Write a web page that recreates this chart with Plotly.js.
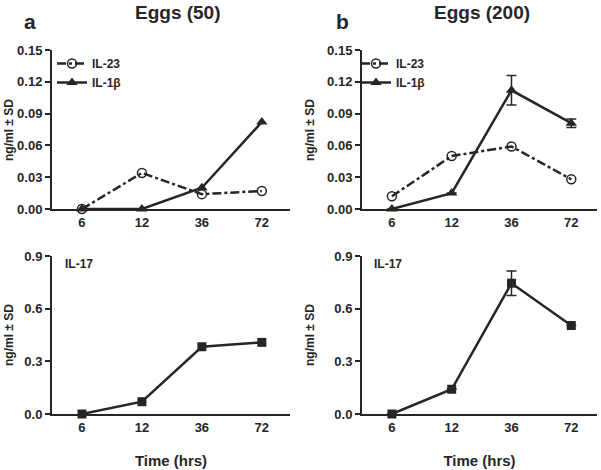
<!DOCTYPE html>
<html>
<head>
<meta charset="utf-8">
<script src="https://cdn.plot.ly/plotly-3.0.1.min.js"></script>
<style>
html,body{margin:0;padding:0;background:#fff;}
#chart{width:601px;height:470px;}
</style>
</head>
<body>
<div id="chart"></div>
<script>
// ---- data ----
const timeLabels = ["6", "12", "36", "72"];
const il23_50 = [0.000, 0.034, 0.014, 0.017];
const il1b_50 = [0.000, 0.000, 0.020, 0.082];
const il23_200 = [0.012, 0.050, 0.059, 0.028];
const il1b_200 = [0.000, 0.015, 0.112, 0.081];
const il1b_200_sd = [0, 0, 0.014, 0.004];
const il17_50 = [0.000, 0.070, 0.383, 0.408];
const il17_200 = [0.000, 0.141, 0.745, 0.504];
const il17_200_sd = [0, 0, 0.070, 0];

const W = 601, H = 470;
const ink = '#262626';
const FONT = 'Liberation Sans, Arial, Helvetica, sans-serif';
const px = v => v / W;
const py = v => (H - v) / H;

function circleTrace(y, xa, ya, lg, show) {
  return {x: timeLabels, y: y, xaxis: xa, yaxis: ya, name: 'IL-23', legend: lg, showlegend: show,
    mode: 'lines+markers', cliponaxis: false,
    line: {color: ink, width: 2.5, dash: 'dashdot'},
    marker: {symbol: 'circle-open', size: 9, color: ink, line: {width: 1.5, color: ink}}};
}
function triTrace(y, xa, ya, lg, sd) {
  const t = {x: timeLabels, y: y, xaxis: xa, yaxis: ya, name: 'IL-1β', legend: lg,
    mode: 'lines+markers', cliponaxis: false,
    line: {color: ink, width: 2.5},
    marker: {symbol: 'triangle-up', size: 10, color: ink}};
  if (sd) t.error_y = {type: 'data', array: sd, visible: true, color: ink, thickness: 1.5, width: 5};
  return t;
}
function sqTrace(y, xa, ya, sd) {
  const t = {x: timeLabels, y: y, xaxis: xa, yaxis: ya, name: 'IL-17', showlegend: false,
    mode: 'lines+markers', cliponaxis: false,
    line: {color: ink, width: 2.5},
    marker: {symbol: 'square', size: 9, color: ink}};
  if (sd) t.error_y = {type: 'data', array: sd, visible: true, color: ink, thickness: 1.5, width: 5};
  return t;
}

const data = [
  circleTrace(il23_50, 'x', 'y', 'legend', true),
  triTrace(il1b_50, 'x', 'y', 'legend', null),
  circleTrace(il23_200, 'x2', 'y2', 'legend2', true),
  triTrace(il1b_200, 'x2', 'y2', 'legend2', il1b_200_sd),
  sqTrace(il17_50, 'x3', 'y3', null),
  sqTrace(il17_200, 'x4', 'y4', il17_200_sd)
];

const tickF = {family: FONT, size: 13, color: ink, weight: 'bold'};
function xAxis(domain, anchor, xr, withTitle) {
  const a = {domain: domain, anchor: anchor, type: 'category', range: [-0.5, xr],
    showline: true, linewidth: 2, linecolor: ink, ticks: '', showgrid: false, zeroline: false,
    tickfont: tickF, fixedrange: true, automargin: false};
  if (withTitle) a.title = {text: 'Time (hrs)', font: {family: FONT, size: 15, color: ink, weight: 'bold'}, standoff: 22};
  return a;
}
function yAxis(domain, anchor, range, dtick, fmt) {
  return {domain: domain, anchor: anchor, range: range, dtick: dtick, tick0: 0, tickformat: fmt,
    showline: true, linewidth: 2, linecolor: ink, ticks: 'outside', ticklen: 5, tickwidth: 2, tickcolor: ink,
    showgrid: false, zeroline: false, tickfont: tickF, fixedrange: true, automargin: false};
}

const xL = [px(52), px(290)], xR = [px(362), px(597)];
const yT = [py(209), py(50)], yB = [py(414), py(256)];

const legendBase = {xanchor: 'left', yanchor: 'top', bgcolor: 'rgba(0,0,0,0)',
  font: {family: FONT, size: 12, color: ink, weight: 'bold'}, itemwidth: 30, tracegroupgap: 0};

function ann(text, x, y, size, extra) {
  return Object.assign({text: text, x: px(x), y: py(y), xref: 'paper', yref: 'paper', showarrow: false,
    xanchor: 'center', yanchor: 'middle',
    font: {family: FONT, size: size, color: ink, weight: 'bold'}}, extra || {});
}
const yTitle = 'ng/ml ± SD';

const layout = {
  width: W, height: H,
  margin: {l: 0, r: 0, t: 0, b: 0},
  paper_bgcolor: '#fff', plot_bgcolor: '#fff',
  showlegend: true,
  xaxis: xAxis(xL, 'y', 3.47, false),
  yaxis: yAxis(yT, 'x', [0, 0.15], 0.03, '.2f'),
  xaxis2: xAxis(xR, 'y2', 3.43, false),
  yaxis2: yAxis(yT, 'x2', [0, 0.15], 0.03, '.2f'),
  xaxis3: xAxis(xL, 'y3', 3.47, true),
  yaxis3: yAxis(yB, 'x3', [0, 0.9], 0.3, '.1f'),
  xaxis4: xAxis(xR, 'y4', 3.43, true),
  yaxis4: yAxis(yB, 'x4', [0, 0.9], 0.3, '.1f'),
  legend: Object.assign({x: px(52), y: py(49)}, legendBase),
  legend2: Object.assign({x: px(356), y: py(49)}, legendBase),
  annotations: [
    ann('Eggs (50)', 178, 13, 19),
    ann('Eggs (200)', 482, 13, 19),
    ann('a', 30, 22, 21),
    ann('b', 342, 22, 21),
    ann('IL-17', 63, 264, 12, {xanchor: 'left'}),
    ann('IL-17', 372, 264, 12, {xanchor: 'left'}),
    ann(yTitle, 9, 130, 12, {textangle: -90}),
    ann(yTitle, 310, 130, 12, {textangle: -90}),
    ann(yTitle, 9, 335, 12, {textangle: -90}),
    ann(yTitle, 310, 335, 12, {textangle: -90})
  ]
};

Plotly.newPlot('chart', data, layout, {displayModeBar: false, staticPlot: true});
</script>
</body>
</html>
